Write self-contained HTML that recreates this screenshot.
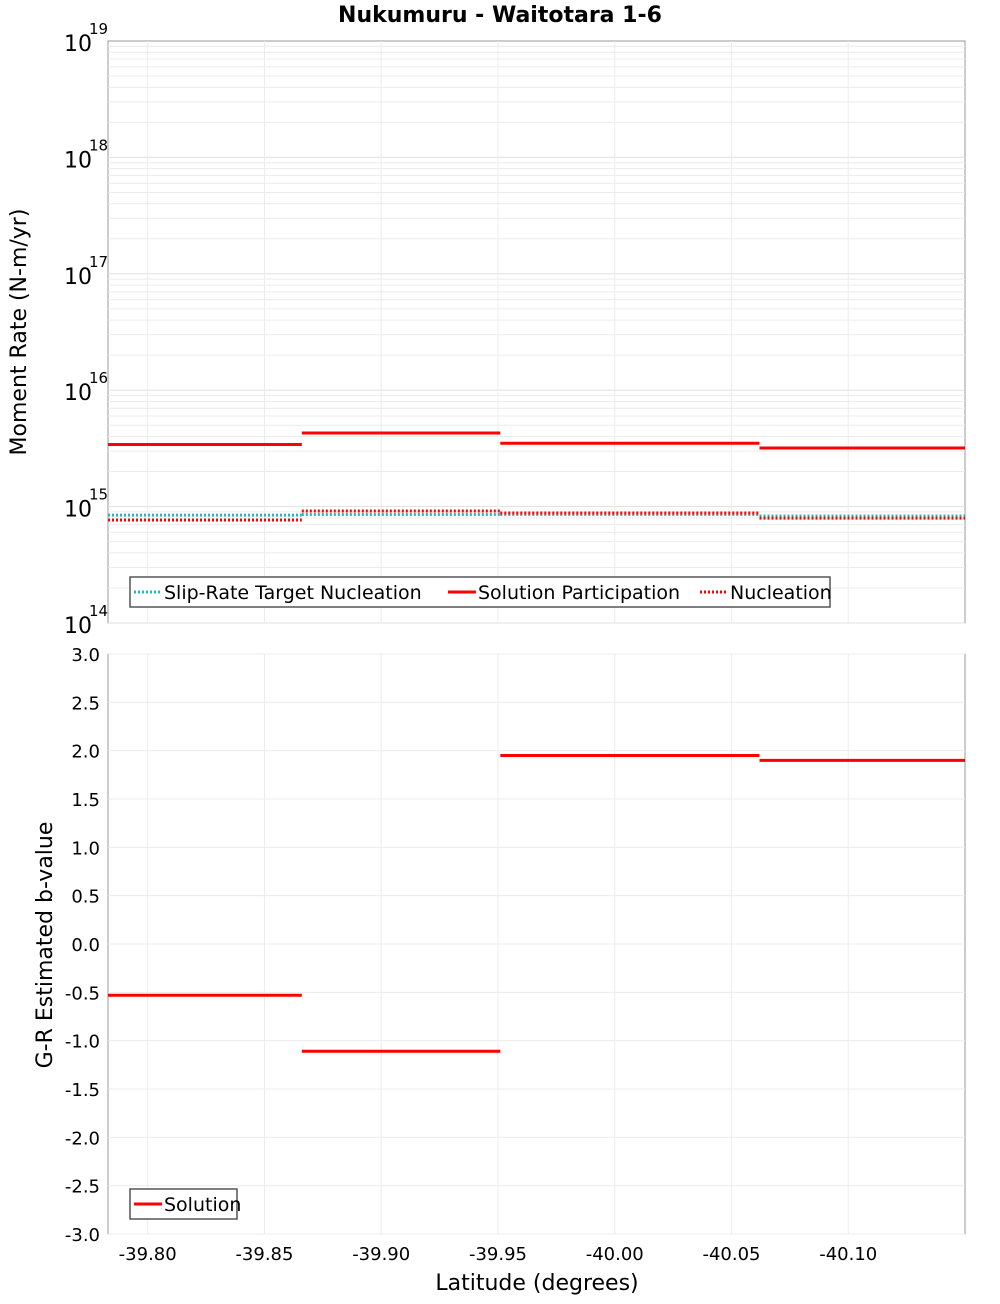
<!DOCTYPE html>
<html><head><meta charset="utf-8"><style>
body{margin:0;background:#fff;font-family:"DejaVu Sans","Liberation Sans",sans-serif}
svg text{font-family:"DejaVu Sans","Liberation Sans",sans-serif}
</style></head><body>
<svg id="c" width="1000" height="1300" xmlns="http://www.w3.org/2000/svg">
<text x="500" y="22" text-anchor="middle" font-size="22" font-weight="bold">Nukumuru - Waitotara 1-6</text>
<g id="topG"></g>
<g id="botG"></g>
<text transform="translate(26,332) rotate(-90)" text-anchor="middle" font-size="22">Moment Rate (N-m/yr)</text>
<text transform="translate(52,945) rotate(-90)" text-anchor="middle" font-size="22">G-R Estimated b-value</text>
<text x="537" y="1290" text-anchor="middle" font-size="22">Latitude (degrees)</text>
</svg>
<script>
const bounds=[-39.783,-39.866,-39.951,-40.062,-40.150];
const targetNuc=[8.45e14,8.55e14,8.55e14,8.3e14];
const solPart=[3.42e15,4.29e15,3.5e15,3.19e15];
const nucleation=[7.67e14,9.17e14,8.8e14,7.97e14];
const bvalue=[-0.53,-1.11,1.95,1.90];
const xTicks=[-39.80,-39.85,-39.90,-39.95,-40.00,-40.05,-40.10];
const logTicks=[14,15,16,17,18,19];
const bTicks=[3.0,2.5,2.0,1.5,1.0,0.5,0.0,-0.5,-1.0,-1.5,-2.0,-2.5,-3.0];
const L=108,R=965,T1=41,B1=623,T2=654,B2=1234;
const xs=v=>L+(v-bounds[0])/(bounds[4]-bounds[0])*(R-L);
const ly=v=>B1-(Math.log10(v)-14)/5*(B1-T1);
const by=v=>B2-(v+3)/6*(B2-T2);
const NS='http://www.w3.org/2000/svg';
function mk(p,t,a){const e=document.createElementNS(NS,t);for(const k in a)e.setAttribute(k,a[k]);p.appendChild(e);return e;}
const topG=document.getElementById('topG'),botG=document.getElementById('botG');
mk(topG,'rect',{x:L,y:T1,width:R-L,height:B1-T1,fill:'#fff',stroke:'#999'});
mk(botG,'rect',{x:L,y:T2,width:R-L,height:B2-T2,fill:'#fff',stroke:'#999'});
for(let d=14;d<19;d++)for(let m=1;m<10;m++){const y=ly(m*Math.pow(10,d));
 const g=mk(topG,'line',{x1:L,x2:R,y1:y,y2:y,stroke:m==1?'#e0e0e0':'#ececec'});
 
 }
logTicks.forEach(d=>{const y=ly(Math.pow(10,d));
 const t=mk(topG,'text',{x:64,y:y+10,'font-size':22});t.textContent='10';
 
 
 const s=mk(topG,'text',{x:89,y:y-7,'font-size':15});s.textContent=String(d);
 
 });
bTicks.forEach(v=>{const y=by(v);
 const g=mk(botG,'line',{x1:L,x2:R,y1:y,y2:y,stroke:'#ececec'});
 
 
 const t=mk(botG,'text',{x:100,y:y+7,'font-size':18,'text-anchor':'end'});t.textContent=v.toFixed(1);
 
 });
xTicks.forEach(v=>{const x=xs(v);
 [[T1,B1,topG],[T2,B2,botG]].forEach(([a,b,p])=>{const g=mk(p,'line',{x1:x,x2:x,y1:a,y2:b,stroke:'#ececec'});
 
 });
 const t=mk(botG,'text',{x:x,y:1260,'font-size':18,'text-anchor':'middle'});t.textContent=v.toFixed(2);
 
 });
function seg(p,vals,f,col,dash,name){vals.forEach((v,i)=>{
 const a={x1:xs(bounds[i]),x2:xs(bounds[i+1]),y1:f(v),y2:f(v),stroke:col,'stroke-width':3};
 if(dash)a['stroke-dasharray']='2,2';
 const l=mk(p,'line',a);
 
 });}
seg(topG,targetNuc,ly,'#22bbbb',true,'target-nucleation-segment');
seg(topG,nucleation,ly,'#ff0000',true,'nucleation-segment');
seg(topG,solPart,ly,'#ff0000',false,'solution-participation-segment');
seg(botG,bvalue,by,'#ff0000',false,'b-value-segment');
function legend(p,x,y,w,items,name){const g=mk(p,'g',{});
 
 
 mk(g,'rect',{x:x,y:y,width:w,height:30,fill:'#fff',stroke:'#555','stroke-width':1.5});
 let cx=x+4;items.forEach(([lab,col,d,tw])=>{const a={x1:cx,x2:cx+28,y1:y+15,y2:y+15,stroke:col,'stroke-width':3};if(d)a['stroke-dasharray']='2,2';mk(g,'line',a);
 const t=mk(g,'text',{x:cx+30,y:y+22,'font-size':19});t.textContent=lab;cx+=30+tw;});}
legend(topG,130,577,700,[['Slip-Rate Target Nucleation','#22bbbb',true,284],['Solution Participation','#ff0000',false,222],['Nucleation','#ff0000',true,120]],'legend-top');
legend(botG,130,1189,107,[['Solution','#ff0000',false,80]],'legend-bottom');
</script>
</body></html>
